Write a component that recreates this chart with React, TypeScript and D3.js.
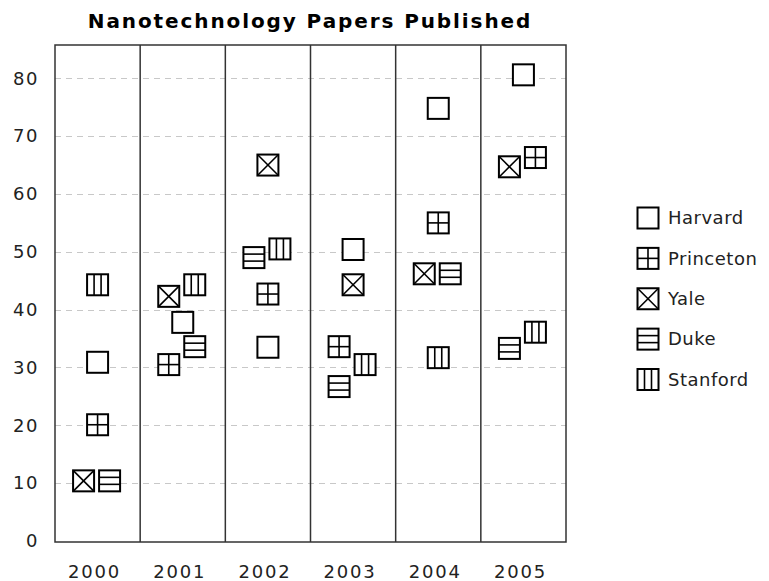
import React from 'react';
import * as d3 from 'd3';

const years = ['2000', '2001', '2002', '2003', '2004', '2005'];
const seriesNames = ['Harvard', 'Princeton', 'Yale', 'Duke', 'Stanford'];
const harvard = [30.9, 37.8, 33.5, 50.4, 74.8, 80.6];
const princeton = [20.1, 30.5, 42.7, 33.6, 55, 66.3];
const yale = [10.4, 42.3, 65, 44.3, 46.2, 64.7];
const duke = [10.4, 33.6, 49, 26.7, 46.2, 33.3];
const stanford = [44.3, 44.3, 50.5, 30.5, 31.7, 36.1];
const yTicks = [0, 10, 20, 30, 40, 50, 60, 70, 80];

const seriesValues = [harvard, princeton, yale, duke, stanford];

const W = 769;
const H = 581;
const plot = { left: 55, right: 566, top: 45, bottom: 542 };
const MS = 21; // marker size
const FONT = '"DejaVu Sans", sans-serif';

// marker glyph: square with a pattern per series
const Marker: React.FC<{ kind: number }> = ({ kind }) => {
  const h = MS / 2;
  const t = MS / 6;
  const inner: JSX.Element[] = [];
  if (kind === 1) {
    inner.push(<line key="v" x1={0} x2={0} y1={-h} y2={h} />);
    inner.push(<line key="h" x1={-h} x2={h} y1={0} y2={0} />);
  } else if (kind === 2) {
    inner.push(<line key="a" x1={-h} x2={h} y1={-h} y2={h} />);
    inner.push(<line key="b" x1={-h} x2={h} y1={h} y2={-h} />);
  } else if (kind === 3) {
    inner.push(<line key="a" x1={-h} x2={h} y1={-t} y2={-t} />);
    inner.push(<line key="b" x1={-h} x2={h} y1={t} y2={t} />);
  } else if (kind === 4) {
    inner.push(<line key="a" y1={-h} y2={h} x1={-t} x2={-t} />);
    inner.push(<line key="b" y1={-h} y2={h} x1={t} x2={t} />);
  }
  return (
    <g stroke="#000" fill="none">
      <rect x={-h} y={-h} width={MS} height={MS} fill="#fff" strokeWidth={2} />
      <g strokeWidth={1.6}>{inner}</g>
    </g>
  );
};

export default function App() {
  const x = d3.scaleBand<string>().domain(years).range([plot.left, plot.right]);
  const y = d3.scaleLinear().domain([0, 80]).range([541, 78.3]);

  // dodge overlapping markers inside each year column
  const points: { s: number; i: number; cx: number; cy: number }[] = [];
  years.forEach((yr, i) => {
    const col = seriesValues
      .map((vals, s) => ({ s, v: vals[i], py: y(vals[i]) }))
      .sort((a, b) => a.v - b.v || a.s - b.s);
    const clusters: typeof col[] = [];
    col.forEach((p, k) => {
      if (k > 0 && Math.abs(col[k - 1].py - p.py) < MS + 2) clusters[clusters.length - 1].push(p);
      else clusters.push([p]);
    });
    const center = (x(yr) as number) + x.bandwidth() / 2;
    clusters.forEach(cl => {
      cl.forEach((p, k) => {
        const off = cl.length === 1 ? 0 : k % 2 === 0 ? -14 : 12;
        points.push({ s: p.s, i, cx: center + off, cy: p.py });
      });
    });
  });

  const legendY = d3.scalePoint<string>().domain(seriesNames).range([218, 379.5]);

  return (
    <svg width={W} height={H} style={{ position: 'absolute', left: 0, top: 0 }} fontFamily={FONT}>
      <rect width={W} height={H} fill="#fff" />
      <text x={310} y={28} textAnchor="middle" fontWeight="bold" fontSize={20} letterSpacing={1.9} fill="#000">
        Nanotechnology Papers Published
      </text>

      {yTicks.filter(t => t > 0).map(t => (
        <line key={t} x1={plot.left} x2={plot.right} y1={Math.round(y(t)) + 0.5} y2={Math.round(y(t)) + 0.5}
          stroke="#c8c8c8" strokeDasharray="6,5" />
      ))}
      {years.slice(1).map(yr => (
        <line key={yr} x1={x(yr)} x2={x(yr)} y1={plot.top} y2={plot.bottom} stroke="#333" strokeWidth={1.5} />
      ))}
      <rect x={plot.left} y={plot.top} width={plot.right - plot.left} height={plot.bottom - plot.top}
        fill="none" stroke="#333" strokeWidth={1.5} />

      {yTicks.map(t => (
        <text key={t} x={39} y={y(t)} dy="0.35em" textAnchor="end" fontSize={18} letterSpacing={1.5} fill="#222">{t}</text>
      ))}
      {years.map(yr => (
        <text key={yr} x={(x(yr) as number) + x.bandwidth() / 2 - 3} y={578} textAnchor="middle" fontSize={18}
          letterSpacing={1.8} fill="#222">
          {yr}
        </text>
      ))}

      {points.map(p => (
        <g key={`${p.s}-${p.i}`} transform={`translate(${p.cx},${p.cy})`}>
          <Marker kind={p.s} />
        </g>
      ))}

      {seriesNames.map((n, s) => (
        <g key={n} transform={`translate(648,${legendY(n)})`}>
          <Marker kind={s} />
          <text x={20} dy="0.35em" fontSize={18} letterSpacing={0.5} fill="#222">{n}</text>
        </g>
      ))}
    </svg>
  );
}
